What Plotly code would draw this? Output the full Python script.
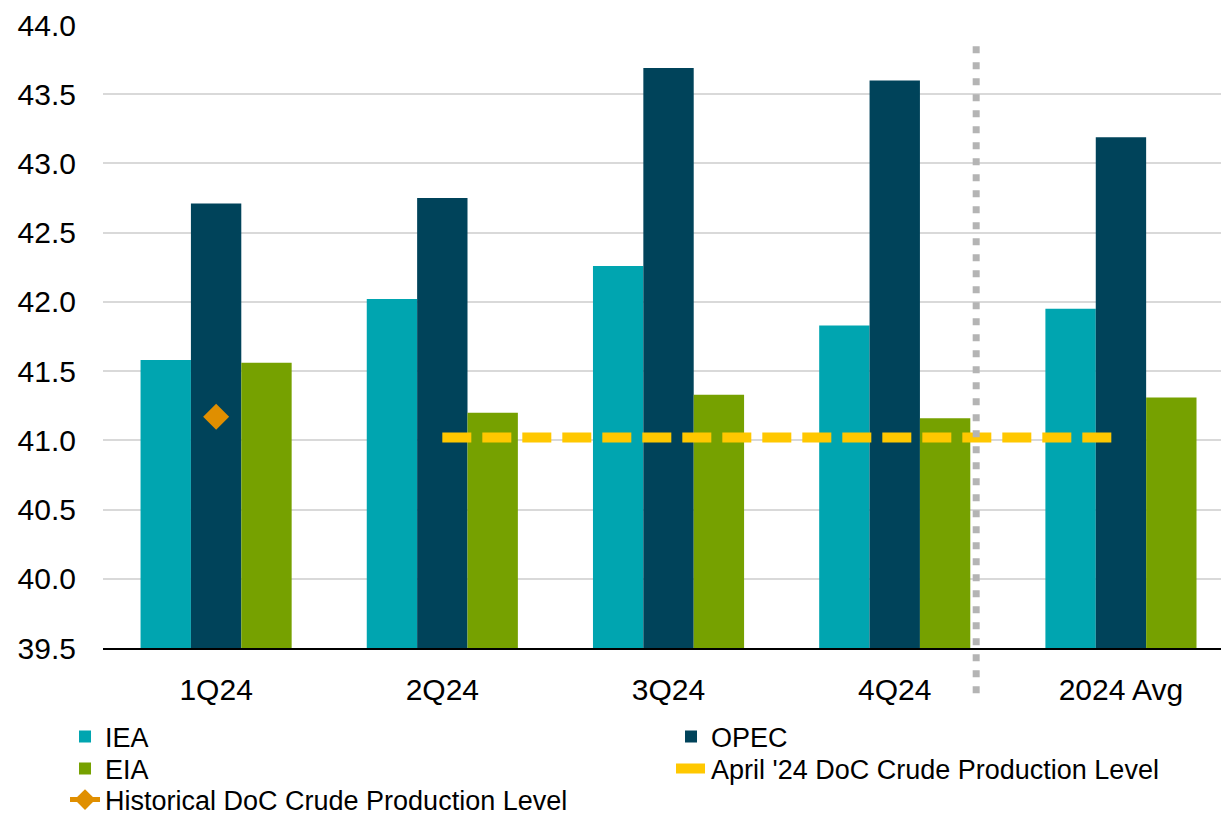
import plotly.graph_objects as go

categories = ["1Q24", "2Q24", "3Q24", "4Q24", "2024 Avg"]
iea = [41.58, 42.02, 42.26, 41.83, 41.95]
opec = [42.71, 42.75, 43.69, 43.60, 43.19]
eia = [41.56, 41.20, 41.33, 41.16, 41.31]
april_cats = ["2Q24", "3Q24", "4Q24", "2024 Avg"]
april_level = [41.02, 41.02, 41.02, 41.02]
hist_cats = ["1Q24"]
hist_level = [41.17]
y_ticks = [39.5, 40.0, 40.5, 41.0, 41.5, 42.0, 42.5, 43.0, 43.5, 44.0]
divider_pos = 3.36

FONT = "Liberation Sans, Arial, sans-serif"

fig = go.Figure()
fig.add_trace(go.Bar(name="IEA", x=categories, y=iea, legend="legend",
                     marker=dict(color="#00A5B0", line=dict(width=0))))
fig.add_trace(go.Bar(name="OPEC", x=categories, y=opec, legend="legend",
                     marker=dict(color="#00435A", line=dict(width=0))))
fig.add_trace(go.Bar(name="EIA", x=categories, y=eia, legend="legend2",
                     marker=dict(color="#76A100", line=dict(width=0))))
fig.add_trace(go.Scatter(name="April '24 DoC Crude Production Level", x=april_cats, y=april_level,
                         legend="legend2", mode="lines",
                         line=dict(color="#FFC800", width=10, dash="29px,11px")))
fig.add_trace(go.Scatter(name="Historical DoC Crude Production Level", x=hist_cats, y=hist_level,
                         legend="legend3", mode="lines+markers", line=dict(color="#E08F00", width=5),
                         marker=dict(symbol="diamond", size=20, color="#E08F00")))

fig.add_shape(type="line", xref="x", yref="paper", x0=divider_pos, x1=divider_pos, y0=0.966, y1=-0.075,
              line=dict(color="#B4B4B4", width=7, dash="7px,9px"), layer="above")

leg_common = dict(orientation="h", xanchor="left", yanchor="middle",
                  entrywidth=561, entrywidthmode="pixels",
                  font=dict(family=FONT, size=27, color="black"),
                  tracegroupgap=0, bgcolor="rgba(0,0,0,0)")

fig.update_layout(
    width=1229, height=815,
    margin=dict(l=95, r=0, t=17, b=175, autoexpand=False),
    paper_bgcolor="white", plot_bgcolor="white",
    barmode="group", bargap=0.332, bargroupgap=0,
    font=dict(family=FONT, size=28, color="black"),
    showlegend=True,
    legend=dict(x=-0.0335, y=-0.1429, **leg_common),
    legend2=dict(x=-0.0335, y=-0.1942, **leg_common),
    legend3=dict(x=-0.0335, y=-0.2440, **leg_common),
    xaxis=dict(type="category", categoryorder="array", categoryarray=categories,
               range=[-0.5, 4.513], showgrid=False, showline=True, linecolor="black", linewidth=2,
               ticks="", tickfont=dict(family=FONT, size=30, color="black"), ticklabelstandoff=14,
               automargin=False),
    yaxis=dict(range=[39.5, 44.0], tickvals=y_ticks, tickformat=".1f", showgrid=True,
               gridcolor="#D9D9D9", gridwidth=2, zeroline=False, showline=False, ticks="",
               tickfont=dict(family=FONT, size=30, color="black"), ticklabelstandoff=26,
               automargin=False),
)

fig.write_html("out.html")
